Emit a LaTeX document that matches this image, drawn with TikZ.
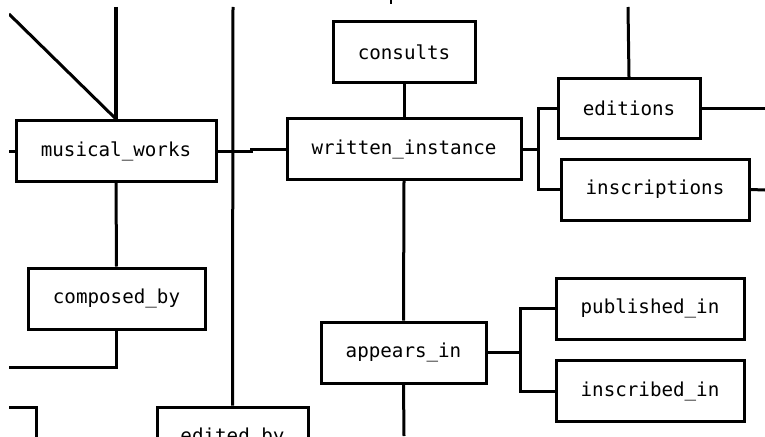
\documentclass[tikz,border=0pt]{standalone}
\usepackage{fontspec}
\usepackage{tikz}
\newfontfamily\boxfont{DejaVu Sans Mono}

\begin{document}
\begin{tikzpicture}[x=1pt,y=-1pt,line width=3pt,
  entity/.style={draw,line width=3pt,fill=white,inner sep=0pt,font=\boxfont\fontsize{19.2}{23}\selectfont,minimum height=61pt}]
\useasboundingbox (0,0) rectangle (765,436);
\draw[line width=1.2pt] (391,0) -- (391,4);
\clip (9,0) rectangle (765,436);
\node[entity,minimum width=200pt] (works) at (116,151) {musical\_works};
\node[entity,minimum width=234pt] (instance) at (404,149) {written\_instance};
\node[entity,minimum width=142pt] (consults) at (404,52) {consults};
\node[entity,minimum width=142pt,minimum height=60pt] (editions) at (629,108.5) {editions};
\node[entity,minimum width=188pt] (inscriptions) at (655,189.5) {inscriptions};
\node[entity,minimum width=177pt] (composed) at (116.5,298.5) {composed\_by};
\node[entity,minimum width=165pt] (appears) at (403.5,352.5) {appears\_in};
\node[entity,minimum width=188pt] (published) at (650,308.5) {published\_in};
\node[entity,minimum width=188pt] (inscribed) at (650,391) {inscribed\_in};
\node[entity,minimum width=151pt] (edited) at (232.5,437.5) {edited\_by};
\node[entity,minimum width=150pt] (lower) at (-39,437.5) {};
% free ends at the edges
\coordinate (worksleft) at (9,151);
\coordinate (worksup) at (116,7);
\coordinate (diag) at (9,14);
\coordinate (editedup) at (233,7);
\coordinate (editionsup) at (628,7);
\coordinate (editionsright) at (765,108.5);
\coordinate (inscright) at (765,190);
\coordinate (appearsdown) at (404,436);
\coordinate (composedleft) at (9,367);
\coordinate (fork1) at (538,149);
\coordinate (fork2) at (520,352.5);
\draw (works.west) -- (worksleft);
\draw[line width=4.5pt] (worksup) -- (works.north);
\draw (diag) -- (works.north);
\draw (editedup) -- (edited.north);
\draw (works.east) -- ++(34,0) |- (instance.west);
\draw (consults.south) -- (instance.north);
\draw (instance.east) -- (fork1);
\draw (editions.west) -| (fork1) |- (inscriptions.west);
\draw (editionsup) -- (editions.north);
\draw (editions.east) -- (editionsright);
\draw (inscriptions.east) -- (inscright);
\draw (instance.south) -- (appears.north);
\draw (appears.south) -- (appearsdown);
\draw (appears.east) -- (fork2);
\draw (published.west) -| (fork2) |- (inscribed.west);
\draw (works.south) -- (composed.north);
\draw (composed.south) |- (composedleft);
\end{tikzpicture}
\end{document}
